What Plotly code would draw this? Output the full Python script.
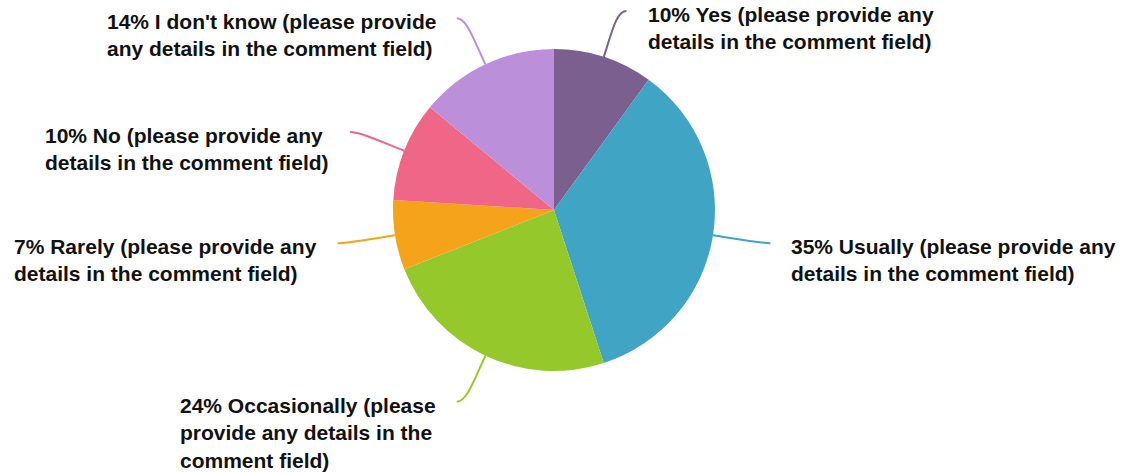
import math
import plotly.graph_objects as go

# Survey answers, clockwise from 12 o'clock
labels = [
    "Yes (please provide any details in the comment field)",
    "Usually (please provide any details in the comment field)",
    "Occasionally (please provide any details in the comment field)",
    "Rarely (please provide any details in the comment field)",
    "No (please provide any details in the comment field)",
    "I don't know (please provide any details in the comment field)",
]
percents = [10, 35, 24, 7, 10, 14]
label_lines = [
    "10% Yes (please provide any<br>details in the comment field)",
    "35% Usually (please provide any<br>details in the comment field)",
    "24% Occasionally (please<br>provide any details in the<br>comment field)",
    "7% Rarely (please provide any<br>details in the comment field)",
    "10% No (please provide any<br>details in the comment field)",
    "14% I don't know (please provide<br>any details in the comment field)",
]
colors = ["#7B5F8E", "#40A4C4", "#95C82A", "#F5A31B", "#EF6686", "#BC8FDB"]

W, H = 1123, 473
CX, CY, R = 554, 210, 161

fig = go.Figure()
fig.add_trace(go.Pie(
    labels=labels,
    values=percents,
    sort=False,
    direction="clockwise",
    rotation=0,
    marker=dict(colors=colors, line=dict(width=0)),
    textinfo="none",
    hoverinfo="skip",
    showlegend=False,
    domain=dict(x=[(CX - R) / W, (CX + R) / W], y=[1 - (CY + R) / H, 1 - (CY - R) / H]),
))

# Curved leader lines and outside labels, placed from each slice's mid angle
shapes = []
annotations = []
total = sum(percents)
cum = 0.0
for pct, txt, col in zip(percents, label_lines, colors):
    mid = (cum + pct / 2) / total * 2 * math.pi
    cum += pct
    dx, dy = math.sin(mid), -math.cos(mid)
    side = 1 if dx >= 0 else -1
    x0, y0 = CX + R * dx, CY + R * dy
    x1, y1 = CX + (R + 28) * dx, CY + (R + 28) * dy
    x3, y3 = CX + (R + 51) * dx + side * 7, CY + (R + 51) * dy
    x3, y3 = x3, max(y3, 11)
    x2, y2 = x3 - side * 10, y3
    shapes.append(dict(
        type="path", xref="x", yref="y",
        path=f"M {x0:.1f},{y0:.1f} C {x1:.1f},{y1:.1f} {x2:.1f},{y2:.1f} {x3:.1f},{y3:.1f}",
        line=dict(color=col, width=2),
    ))
    tx = x3 + side * 19
    ty = y3 - 10
    annotations.append(dict(
        x=tx / W, y=1 - ty / H, xref="paper", yref="paper",
        text=f"<b>{txt}</b>", showarrow=False,
        xanchor="left" if side > 0 else "right", yanchor="top", align="left",
        font=dict(family="Liberation Sans, Arial, sans-serif", size=21, color="#111111"),
    ))

fig.update_layout(
    width=W, height=H,
    margin=dict(l=0, r=0, t=0, b=0),
    paper_bgcolor="white", plot_bgcolor="white",
    xaxis=dict(range=[0, W], visible=False, fixedrange=True),
    yaxis=dict(range=[H, 0], visible=False, fixedrange=True),
    shapes=shapes,
    annotations=annotations,
    hovermode=False,
)
fig.write_html("out.html", config={"displayModeBar": False})
